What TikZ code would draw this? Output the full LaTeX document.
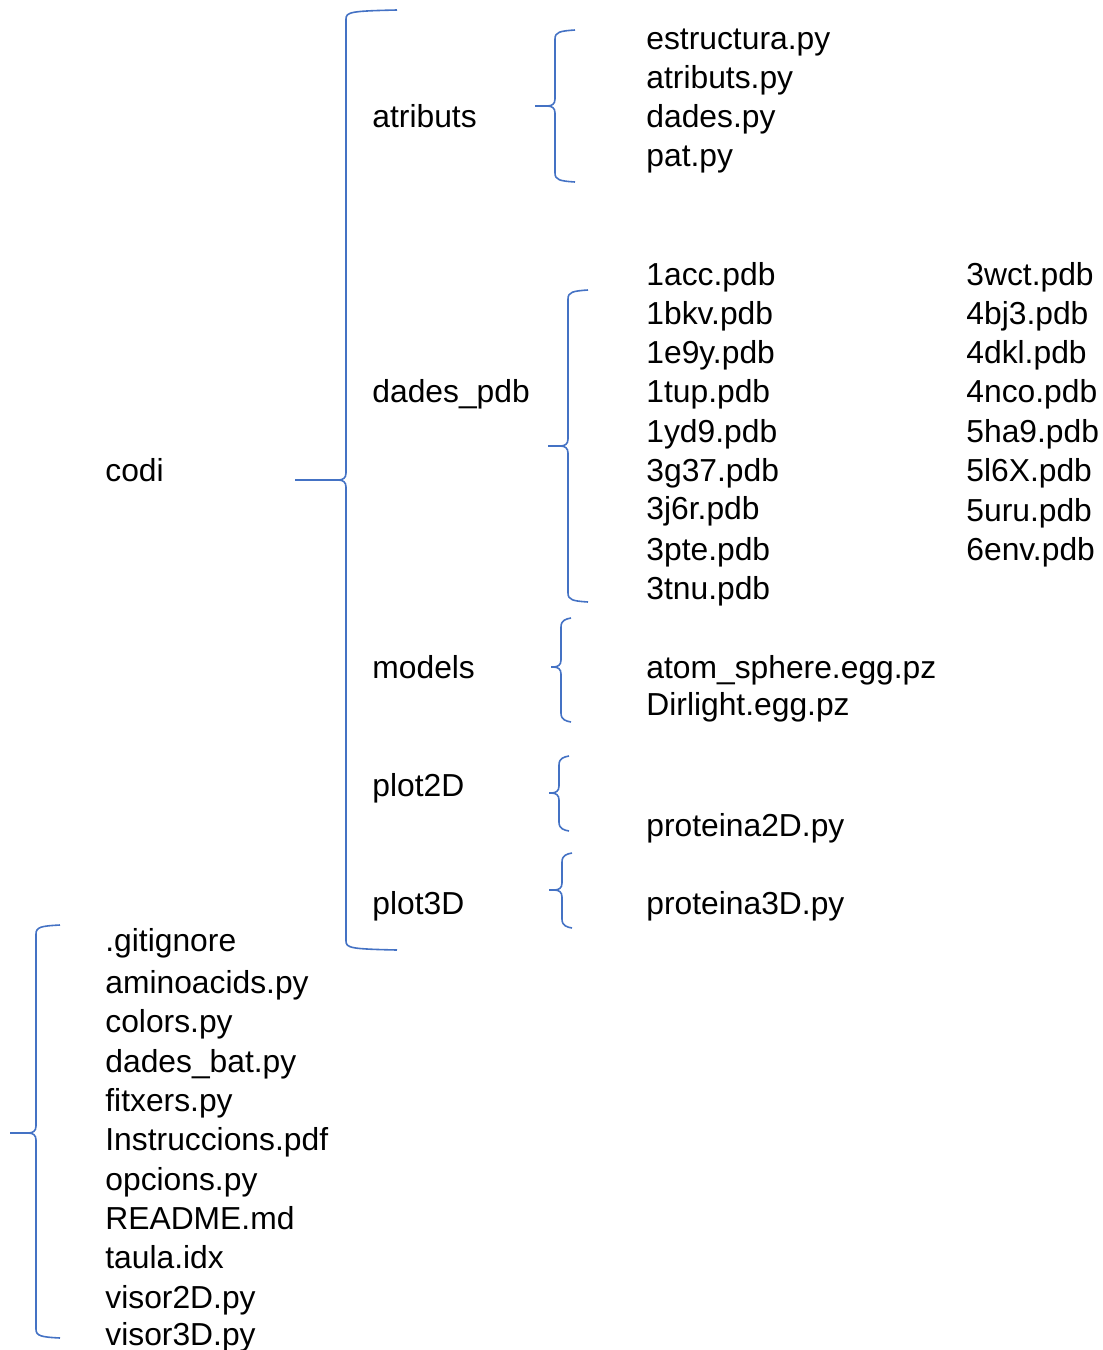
\documentclass[tikz,border=0pt]{standalone}
\usepackage{fontspec}
\setmainfont{Liberation Sans}
\definecolor{bracec}{HTML}{4472C4}
\newcommand\brc[6]{% xe xv xt ytop ymid ybot
  \draw[bracestyle] (#1,#4) .. controls (#2+5,#4+1) and (#2,#4+2) .. (#2,#4+9) -- (#2,#5-7)
     .. controls (#2,#5-2) and (#2-3,#5) .. (#2-8,#5) -- (#3,#5);
  \draw[bracestyle] (#3,#5) -- (#2-8,#5) .. controls (#2-3,#5) and (#2,#5+2) .. (#2,#5+7)
     -- (#2,#6-9) .. controls (#2,#6-2) and (#2+5,#6-1) .. (#1,#6);}
\begin{document}
\begin{tikzpicture}[x=0.5pt,y=-0.5pt,
  bracestyle/.style={draw=bracec,line width=0.8pt,line join=round},
  lbl/.style={anchor=base west,inner sep=0pt,font=\fontsize{15.9}{19}\selectfont}]
\useasboundingbox (0,0) rectangle (1103,1350);
% labels
\node[lbl] (codi) at (105,481) {codi};
\node[lbl] (atr) at (372,127) {atributs};
\node[lbl] (dpdb) at (372,402) {dades\_pdb};
\node[lbl] (mod) at (372,678) {models};
\node[lbl] (p2) at (372,796) {plot2D};
\node[lbl] (p3) at (372,914) {plot3D};
% atributs files
\node[lbl] (f1) at (646,49) {estructura.py};
\node[lbl] (f2) at (646,88) {atributs.py};
\node[lbl] (f3) at (646,127) {dades.py};
\node[lbl] (f4) at (646,166) {pat.py};
% pdb col 1
\node[lbl] (d1) at (646,285) {1acc.pdb};
\node[lbl] (d2) at (646,324) {1bkv.pdb};
\node[lbl] (d3) at (646,363) {1e9y.pdb};
\node[lbl] (d4) at (646,402) {1tup.pdb};
\node[lbl] (d5) at (646,442) {1yd9.pdb};
\node[lbl] (d6) at (646,481) {3g37.pdb};
\node[lbl] (d7) at (646,519) {3j6r.pdb};
\node[lbl] (d8) at (646,560) {3pte.pdb};
\node[lbl] (d9) at (646,599) {3tnu.pdb};
% pdb col 2
\node[lbl] (e1) at (966,285) {3wct.pdb};
\node[lbl] (e2) at (966,324) {4bj3.pdb};
\node[lbl] (e3) at (966,363) {4dkl.pdb};
\node[lbl] (e4) at (966,402) {4nco.pdb};
\node[lbl] (e5) at (966,442) {5ha9.pdb};
\node[lbl] (e6) at (966,481) {5l6X.pdb};
\node[lbl] (e7) at (966,521) {5uru.pdb};
\node[lbl] (e8) at (966,560) {6env.pdb};
% models
\node[lbl] (m1) at (646,678) {atom\_sphere.egg.pz};
\node[lbl] (m2) at (646,715) {Dirlight.egg.pz};
\node[lbl] (q2) at (646,836) {proteina2D.py};
\node[lbl] (q3) at (646,914) {proteina3D.py};
% root files
\node[lbl] (r1) at (105,951) {.gitignore};
\node[lbl] (r2) at (105,993) {aminoacids.py};
\node[lbl] (r3) at (105,1032) {colors.py};
\node[lbl] (r4) at (105,1072) {dades\_bat.py};
\node[lbl] (r5) at (105,1111) {fitxers.py};
\node[lbl] (r6) at (105,1150) {Instruccions.pdf};
\node[lbl] (r7) at (105,1190) {opcions.py};
\node[lbl] (r8) at (105,1229) {README.md};
\node[lbl] (r9) at (105,1268) {taula.idx};
\node[lbl] (r10) at (105,1308) {visor2D.py};
\node[lbl] (r11) at (105,1345) {visor3D.py};
% braces
\brc{397}{346}{295}{10}{480}{950}
\brc{575}{555}{535}{30}{106}{182}
\brc{588}{568}{548}{290}{446}{602}
\brc{571}{561}{551}{618}{667}{722}
\brc{569}{559}{549}{756}{793}{831}
\brc{572}{562}{549}{853}{890}{928}
\brc{60}{36}{10}{925}{1133}{1338}
\end{tikzpicture}
\end{document}
